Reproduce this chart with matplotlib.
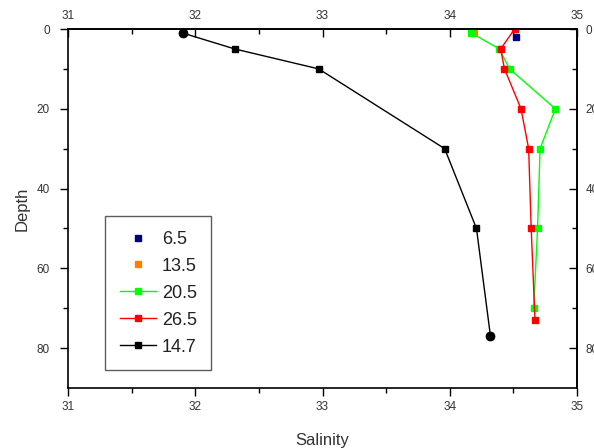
import matplotlib
matplotlib.use("Agg")
import matplotlib.pyplot as plt

plt.rcParams["font.family"] = ["Liberation Sans", "DejaVu Sans"]

# salinity profiles (x = salinity, y = depth)
sal_65 = [34.52]
dep_65 = [2]
sal_135 = [34.19]
dep_135 = [1]
sal_205 = [34.17, 34.39, 34.47, 34.83, 34.71, 34.69, 34.66]
dep_205 = [1, 5, 10, 20, 30, 50, 70]
sal_265 = [34.51, 34.40, 34.43, 34.56, 34.62, 34.64, 34.67]
dep_265 = [0, 5, 10, 20, 30, 50, 73]
sal_147 = [31.90, 32.31, 32.97, 33.96, 34.21, 34.32]
dep_147 = [1, 5, 10, 30, 50, 77]

fig = plt.figure(figsize=(5.94, 4.48), dpi=100)
ax = fig.add_axes([68 / 594, 1 - 388 / 448, 509 / 594, 359 / 448])

ms = 5
ax.plot(sal_65, dep_65, ls="none", marker="s", ms=ms, color="#000080", label="6.5")
ax.plot(sal_135, dep_135, ls="none", marker="s", ms=ms, color="#ff8000", label="13.5")
ax.plot(sal_205, dep_205, "-s", lw=1, ms=ms, color="#00ff00", label="20.5")
ax.plot(sal_265, dep_265, "-s", lw=1, ms=ms, color="#ff0000", label="26.5")
ax.plot(sal_147, dep_147, "-s", lw=1, ms=ms, color="black", label="14.7")
# end points of the 14.7 profile are drawn as circles
ax.plot([sal_147[0], sal_147[-1]], [dep_147[0], dep_147[-1]], ls="none",
        marker="o", ms=6, color="black")

ax.set_xlim(31, 35)
ax.set_ylim(90, 0)
ax.set_xticks([31, 32, 33, 34, 35])
ax.set_xticks([31.5, 32.5, 33.5, 34.5], minor=True)
ax.set_yticks([0, 20, 40, 60, 80])
ax.set_yticks([10, 30, 50, 70], minor=True)

tick_kw = dict(labelsize=8.5, labelcolor="#333333", width=1)
ax.tick_params(which="major", direction="out", length=6, **tick_kw)
ax.tick_params(axis="y", which="major", pad=7)
ax.tick_params(which="minor", direction="out", length=3.5, width=1)

top = ax.secondary_xaxis("top")
top.set_xticks([31, 32, 33, 34, 35])
top.set_xticks([31.5, 32.5, 33.5, 34.5], minor=True)
top.tick_params(which="major", direction="in", length=6, pad=5, **tick_kw)
top.tick_params(which="minor", direction="in", length=3.5, width=1)

# right-hand labels run off the edge of the picture, as in the original
right = ax.secondary_yaxis("right")
right.set_yticks([0, 20, 40, 60, 80])
right.set_yticks([10, 30, 50, 70], minor=True)
right.tick_params(which="major", direction="in", length=6, pad=6, **tick_kw)
right.tick_params(which="minor", direction="in", length=3.5, width=1)

for a in (ax, top, right):
    for s in a.spines.values():
        s.set_linewidth(1.2)

ax.set_xlabel("Salinity", fontsize=12, color="#333333", labelpad=14)
ax.set_ylabel("Depth", fontsize=12, color="#333333", labelpad=5)

leg = ax.legend(loc="lower left", bbox_to_anchor=(0.073, 0.05), fontsize=13,
                frameon=True, fancybox=False, edgecolor="#333333",
                handlelength=2.0, handletextpad=0.35, labelspacing=0.55,
                borderpad=0.8, borderaxespad=0, markerscale=0.8)
leg.get_frame().set_linewidth(1)
for t in leg.get_texts():
    t.set_color("#222222")

fig.savefig("out.png", dpi=100)
